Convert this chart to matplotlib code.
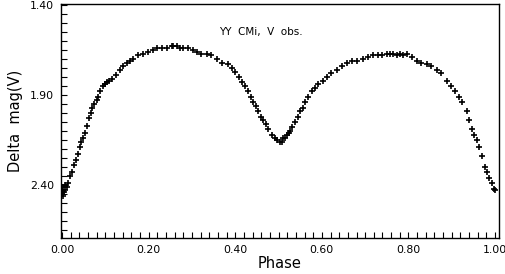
import matplotlib
matplotlib.use("Agg")
import matplotlib.pyplot as plt
from matplotlib.ticker import MultipleLocator, FormatStrFormatter

phase = [0.000, 0.002, 0.003, 0.004, 0.011, 0.018, 0.028, 0.036, 0.042, 0.048,
         0.057, 0.062, 0.070, 0.080, 0.088, 0.095, 0.103, 0.115, 0.134, 0.149,
         0.165, 0.188, 0.211, 0.230, 0.253, 0.257, 0.280, 0.311, 0.334, 0.357,
         0.384, 0.400, 0.415, 0.430, 0.442, 0.453, 0.465, 0.476, 0.492, 0.503,
         0.511, 0.515, 0.523, 0.527, 0.538, 0.550, 0.561, 0.577, 0.592, 0.611,
         0.634, 0.658, 0.681, 0.707, 0.730, 0.750, 0.765, 0.773, 0.788, 0.819,
         0.842, 0.865, 0.888, 0.908, 0.923, 0.935, 0.946, 0.958, 0.969, 0.977,
         0.985, 0.998]
mag = [2.43, 2.41, 2.46, 2.44, 2.41, 2.35, 2.29, 2.23, 2.19, 2.14,
       2.07, 2.03, 1.97, 1.93, 1.88, 1.85, 1.83, 1.81, 1.76, 1.72,
       1.70, 1.67, 1.65, 1.64, 1.63, 1.63, 1.64, 1.66, 1.67, 1.70,
       1.73, 1.77, 1.83, 1.88, 1.94, 1.99, 2.04, 2.09, 2.14, 2.16,
       2.14, 2.14, 2.11, 2.10, 2.05, 1.99, 1.94, 1.88, 1.84, 1.80,
       1.76, 1.72, 1.71, 1.69, 1.68, 1.67, 1.67, 1.68, 1.68, 1.71,
       1.73, 1.76, 1.82, 1.88, 1.94, 1.99, 2.09, 2.15, 2.24, 2.30,
       2.36, 2.42]
# additional observations read between the above
phase2 = [0.001, 0.006, 0.008, 0.014, 0.023, 0.032, 0.045, 0.053, 0.066, 0.075,
          0.084, 0.099, 0.109, 0.124, 0.141, 0.157, 0.176, 0.199, 0.220, 0.242,
          0.265, 0.272, 0.292, 0.303, 0.322, 0.345, 0.370, 0.392, 0.408, 0.422,
          0.436, 0.448, 0.459, 0.470, 0.484, 0.497, 0.507, 0.519, 0.532, 0.544,
          0.556, 0.569, 0.584, 0.602, 0.622, 0.646, 0.670, 0.694, 0.718, 0.740,
          0.758, 0.780, 0.797, 0.808, 0.830, 0.853, 0.876, 0.898, 0.916, 0.940,
          0.952, 0.963, 0.981, 0.993, 1.000]
mag2 = [2.45, 2.40, 2.43, 2.39, 2.33, 2.26, 2.16, 2.11, 2.00, 1.95,
        1.91, 1.84, 1.82, 1.79, 1.74, 1.71, 1.68, 1.66, 1.64, 1.64,
        1.63, 1.64, 1.64, 1.65, 1.67, 1.68, 1.72, 1.75, 1.80, 1.85,
        1.91, 1.96, 2.02, 2.06, 2.12, 2.15, 2.16, 2.12, 2.08, 2.02,
        1.97, 1.91, 1.86, 1.82, 1.78, 1.74, 1.71, 1.70, 1.68, 1.68,
        1.67, 1.67, 1.67, 1.69, 1.72, 1.74, 1.78, 1.85, 1.91, 2.04,
        2.12, 2.19, 2.33, 2.39, 2.43]

x_major = [0.0, 0.2, 0.4, 0.6, 0.8, 1.0]
y_major = [1.40, 1.90, 2.40]

fig = plt.figure(figsize=(5.06, 2.74), dpi=100)
ax = fig.add_axes([61/506, 36/274, 438/506, 234/274])

ax.plot(phase, mag, linestyle="none", marker="+", color="black",
        markersize=4, markeredgewidth=1.2)
ax.plot(phase2, mag2, linestyle="none", marker="+", color="black",
        markersize=4, markeredgewidth=1.2)

ax.set_xlim(-0.0023, 1.009)
ax.set_ylim(2.694, 1.394)

ax.set_xticks(x_major)
ax.set_yticks(y_major)
ax.xaxis.set_minor_locator(MultipleLocator(0.02))
ax.yaxis.set_minor_locator(MultipleLocator(0.05))
ax.xaxis.set_major_formatter(FormatStrFormatter("%.2f"))
ax.yaxis.set_major_formatter(FormatStrFormatter("%.2f"))
ax.tick_params(axis="both", which="both", direction="in", length=4,
               width=0.8, top=False, right=False, labelsize=7.8, pad=5)

for s in ax.spines.values():
    s.set_linewidth(1.0)

ax.set_xlabel("Phase", fontsize=10.5, labelpad=1)
ax.set_ylabel("Delta  mag(V)", fontsize=10.5, labelpad=5)

ax.text(0.36, 0.88, "YY  CMi,  V  obs.", transform=ax.transAxes,
        fontsize=7.5, ha="left", va="center")

fig.savefig("out.png", dpi=100)
